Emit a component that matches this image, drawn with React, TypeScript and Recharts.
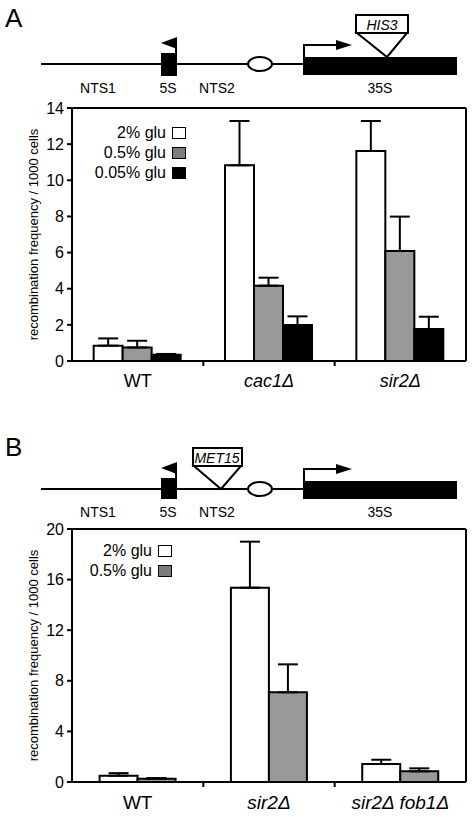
import React from 'react';
import { BarChart, Bar, XAxis, YAxis, ErrorBar, Legend } from 'recharts';

// panel A: HIS3 in 35S
const strainsA = ['WT', 'cac1Δ', 'sir2Δ'];
const glu2A = [0.85, 10.83, 11.62];
const glu2ErrA = [0.4, 2.45, 1.66];
const glu05A = [0.75, 4.17, 6.09];
const glu05ErrA = [0.37, 0.44, 1.9];
const glu005A = [0.35, 1.99, 1.77];
const glu005ErrA = [0.04, 0.48, 0.68];
const ticksA = [0, 2, 4, 6, 8, 10, 12, 14];

// panel B: MET15 in NTS2
const strainsB = ['WT', 'sir2Δ', 'sir2Δ fob1Δ'];
const glu2B = [0.5, 15.36, 1.42];
const glu2ErrB = [0.2, 3.64, 0.34];
const glu05B = [0.26, 7.09, 0.84];
const glu05ErrB = [0.05, 2.21, 0.24];
const ticksB = [0, 4, 8, 12, 16, 20];

const FONT = '"Liberation Sans", Arial, Helvetica, sans-serif';

const rowsA = strainsA.map((name, i) => ({
  name,
  g2: glu2A[i],
  g2e: [0, glu2ErrA[i]],
  g05: glu05A[i],
  g05e: [0, glu05ErrA[i]],
  g005: glu005A[i],
  g005e: [0, glu005ErrA[i]],
}));

const rowsB = strainsB.map((name, i) => ({
  name,
  g2: glu2B[i],
  g2e: [0, glu2ErrB[i]],
  g05: glu05B[i],
  g05e: [0, glu05ErrB[i]],
}));

type Series = { key: string; name: string; fill: string; legend: string };

const seriesA: Series[] = [
  { key: 'g2', name: '2% glu', fill: '#ffffff', legend: '#ffffff' },
  { key: 'g05', name: '0.5% glu', fill: '#999999', legend: '#7c7c7c' },
  { key: 'g005', name: '0.05% glu', fill: '#000000', legend: '#000000' },
];
const seriesB: Series[] = seriesA.slice(0, 2);

const AxisTitle = (props: any) => {
  const { viewBox } = props;
  const cy = viewBox.y + viewBox.height / 2;
  return (
    <text
      x={33}
      y={cy}
      transform={`rotate(-90 33 ${cy})`}
      textAnchor="middle"
      dominantBaseline="central"
      fontSize={13}
      fontFamily={FONT}
      fill="#000"
    >
      recombination frequency / 1000 cells
    </text>
  );
};

// category label, plus a short tick on the left edge of each category band
const StrainTick = (props: any) => {
  const { x, y, payload, size, gap, index } = props;
  const edge = x - (payload.offset || 0);
  const base = y - gap;
  return (
    <g>
      {index > 0 && <line x1={edge} y1={base} x2={edge} y2={base + 5} stroke="#000" strokeWidth={2} />}
      <text
        x={x}
        y={y}
        dy="0.71em"
        textAnchor="middle"
        fontSize={size}
        fontFamily={FONT}
        fontStyle={payload.value === 'WT' ? 'normal' : 'italic'}
        fill="#000"
      >
        {payload.value}
      </text>
    </g>
  );
};

const makeLegend = (series: Series[]) => (props: any) => {
  const items = [...(props.payload || [])].sort(
    (a: any, b: any) => series.findIndex((s) => s.name === a.value) - series.findIndex((s) => s.name === b.value)
  );
  return (
    <div style={{ display: 'flex', flexDirection: 'column', alignItems: 'flex-end', fontFamily: FONT }}>
      {items.map((p: any) => {
        const s = series.find((d) => d.name === p.value);
        return (
          <div key={p.value} style={{ display: 'flex', alignItems: 'center', height: 20 }}>
            <span style={{ fontSize: 16, marginRight: 6, color: '#000' }}>{p.value}</span>
            <span
              style={{
                width: 14,
                height: 12,
                boxSizing: 'border-box',
                border: '1.5px solid #000',
                background: s ? s.legend : p.color,
              }}
            />
          </div>
        );
      })}
    </div>
  );
};

type PanelProps = {
  rows: any[];
  series: Series[];
  ticks: number[];
  top: number;
  height: number;
  margin: { top: number; right: number; bottom: number; left: number };
  gap: string;
  catHeight: number;
  catMargin: number;
  catSize: number;
  legendTop: number;
  legendWidth: number;
};

const axisStroke = { stroke: '#000', strokeWidth: 2 };

const Panel = (p: PanelProps) => (
  <div style={{ position: 'absolute', left: 0, top: p.top, width: 475, height: p.height }}>
    <BarChart
      width={475}
      height={p.height}
      data={p.rows}
      margin={p.margin}
      barCategoryGap={p.gap}
      barGap={0}
    >
      <XAxis
        dataKey="name"
        type="category"
        height={p.catHeight}
        tickSize={0}
        tickMargin={p.catMargin}
        tickLine={false}
        axisLine={axisStroke}
        tick={<StrainTick size={p.catSize} gap={p.catMargin} />}
        interval={0}
      />
      <XAxis xAxisId="top" orientation="top" dataKey="name" height={1} tick={false} tickLine={false} axisLine={axisStroke} />
      <YAxis
        type="number"
        domain={[0, p.ticks[p.ticks.length - 1]]}
        ticks={p.ticks}
        width={72}
        tickSize={5}
        tickMargin={3}
        tickLine={axisStroke}
        axisLine={axisStroke}
        tick={{ fontSize: 16, fill: '#000', fontFamily: FONT }}
        label={<AxisTitle />}
      />
      <YAxis
        yAxisId="frame"
        orientation="right"
        type="number"
        domain={[0, 1]}
        width={1}
        tick={false}
        tickLine={false}
        axisLine={axisStroke}
      />
      <Legend
        layout="vertical"
        align="center"
        verticalAlign="middle"
        content={makeLegend(p.series)}
        wrapperStyle={{ left: 0, top: p.legendTop, width: p.legendWidth, height: 20 * p.series.length }}
      />
      {p.series.map((s) => (
        <Bar
          key={s.key}
          dataKey={s.key}
          name={s.name}
          fill={s.fill}
          stroke="#000"
          strokeWidth={2}
          isAnimationActive={false}
        >
          <ErrorBar dataKey={s.key + 'e'} width={10} stroke="#000" strokeWidth={2} direction="y" />
        </Bar>
      ))}
    </BarChart>
  </div>
);

const txt = { fontFamily: FONT, fill: '#000' } as const;

const DiagramA = () => (
  <svg width={475} height={100} style={{ position: 'absolute', left: 0, top: 0 }}>
    <text x={5} y={27} fontSize={26} {...txt}>A</text>
    <line x1={41} y1={64} x2={457} y2={64} stroke="#000" strokeWidth={2} />
    <rect x={161} y={53} width={16} height={23} fill="#000" />
    <line x1={176} y1={38} x2={176} y2={53} stroke="#000" strokeWidth={2} />
    <polygon points="161,43 177,37 177,49" fill="#000" />
    <ellipse cx={260} cy={64} rx={12} ry={7} fill="#fff" stroke="#000" strokeWidth={2} />
    <rect x={303} y={57} width={154} height={18} fill="#000" />
    <polyline points="304,57 304,45 338,45" fill="none" stroke="#000" strokeWidth={2} />
    <polygon points="336,40 352,45 336,50" fill="#000" />
    <polygon points="357,33 407,33 387,57" fill="#fff" stroke="#000" strokeWidth={2} />
    <rect x={356} y={15} width={52} height={18} fill="#fff" stroke="#000" strokeWidth={2} />
    <text x={382} y={30} fontSize={14} fontStyle="italic" textAnchor="middle" {...txt}>HIS3</text>
    <text x={98} y={93} fontSize={14} textAnchor="middle" {...txt}>NTS1</text>
    <text x={168} y={93} fontSize={14} textAnchor="middle" {...txt}>5S</text>
    <text x={217} y={93} fontSize={14} textAnchor="middle" {...txt}>NTS2</text>
    <text x={380} y={93} fontSize={14} textAnchor="middle" {...txt}>35S</text>
  </svg>
);

const DiagramB = () => (
  <svg width={475} height={125} style={{ position: 'absolute', left: 0, top: 400 }}>
    <text x={5} y={56} fontSize={26} {...txt}>B</text>
    <line x1={41} y1={89} x2={457} y2={89} stroke="#000" strokeWidth={2} />
    <rect x={161} y={78} width={16} height={21} fill="#000" />
    <line x1={176} y1={63} x2={176} y2={78} stroke="#000" strokeWidth={2} />
    <polygon points="161,68 177,62 177,74" fill="#000" />
    <polygon points="194,66 241,66 221,89" fill="#fff" stroke="#000" strokeWidth={2} />
    <rect x={193} y={48} width={49} height={18} fill="#fff" stroke="#000" strokeWidth={2} />
    <text x={217} y={63} fontSize={14} fontStyle="italic" textAnchor="middle" {...txt}>MET15</text>
    <ellipse cx={260} cy={89} rx={12} ry={7} fill="#fff" stroke="#000" strokeWidth={2} />
    <rect x={303} y={81} width={154} height={18} fill="#000" />
    <polyline points="304,81 304,69 338,69" fill="none" stroke="#000" strokeWidth={2} />
    <polygon points="336,64 352,69 336,74" fill="#000" />
    <text x={98} y={117} fontSize={14} textAnchor="middle" {...txt}>NTS1</text>
    <text x={168} y={117} fontSize={14} textAnchor="middle" {...txt}>5S</text>
    <text x={217} y={117} fontSize={14} textAnchor="middle" {...txt}>NTS2</text>
    <text x={380} y={117} fontSize={14} textAnchor="middle" {...txt}>35S</text>
  </svg>
);

export default function App() {
  return (
    <div style={{ position: 'relative', width: 475, height: 817, background: '#fff', fontFamily: FONT }}>
      <style>{'body{margin:0;background:#fff}'}</style>
      <DiagramA />
      <Panel
        rows={rowsA}
        series={seriesA}
        ticks={ticksA}
        top={95}
        height={310}
        margin={{ top: 12, right: 8, bottom: 6, left: 0 }}
        gap="16.5%"
        catHeight={38}
        catMargin={13}
        catSize={18}
        legendTop={28}
        legendWidth={186}
      />
      <DiagramB />
      <Panel
        rows={rowsB}
        series={seriesB}
        ticks={ticksB}
        top={515}
        height={300}
        margin={{ top: 13, right: 8, bottom: 5, left: 0 }}
        gap="21%"
        catHeight={28}
        catMargin={14}
        catSize={19}
        legendTop={26}
        legendWidth={172}
      />
    </div>
  );
}
